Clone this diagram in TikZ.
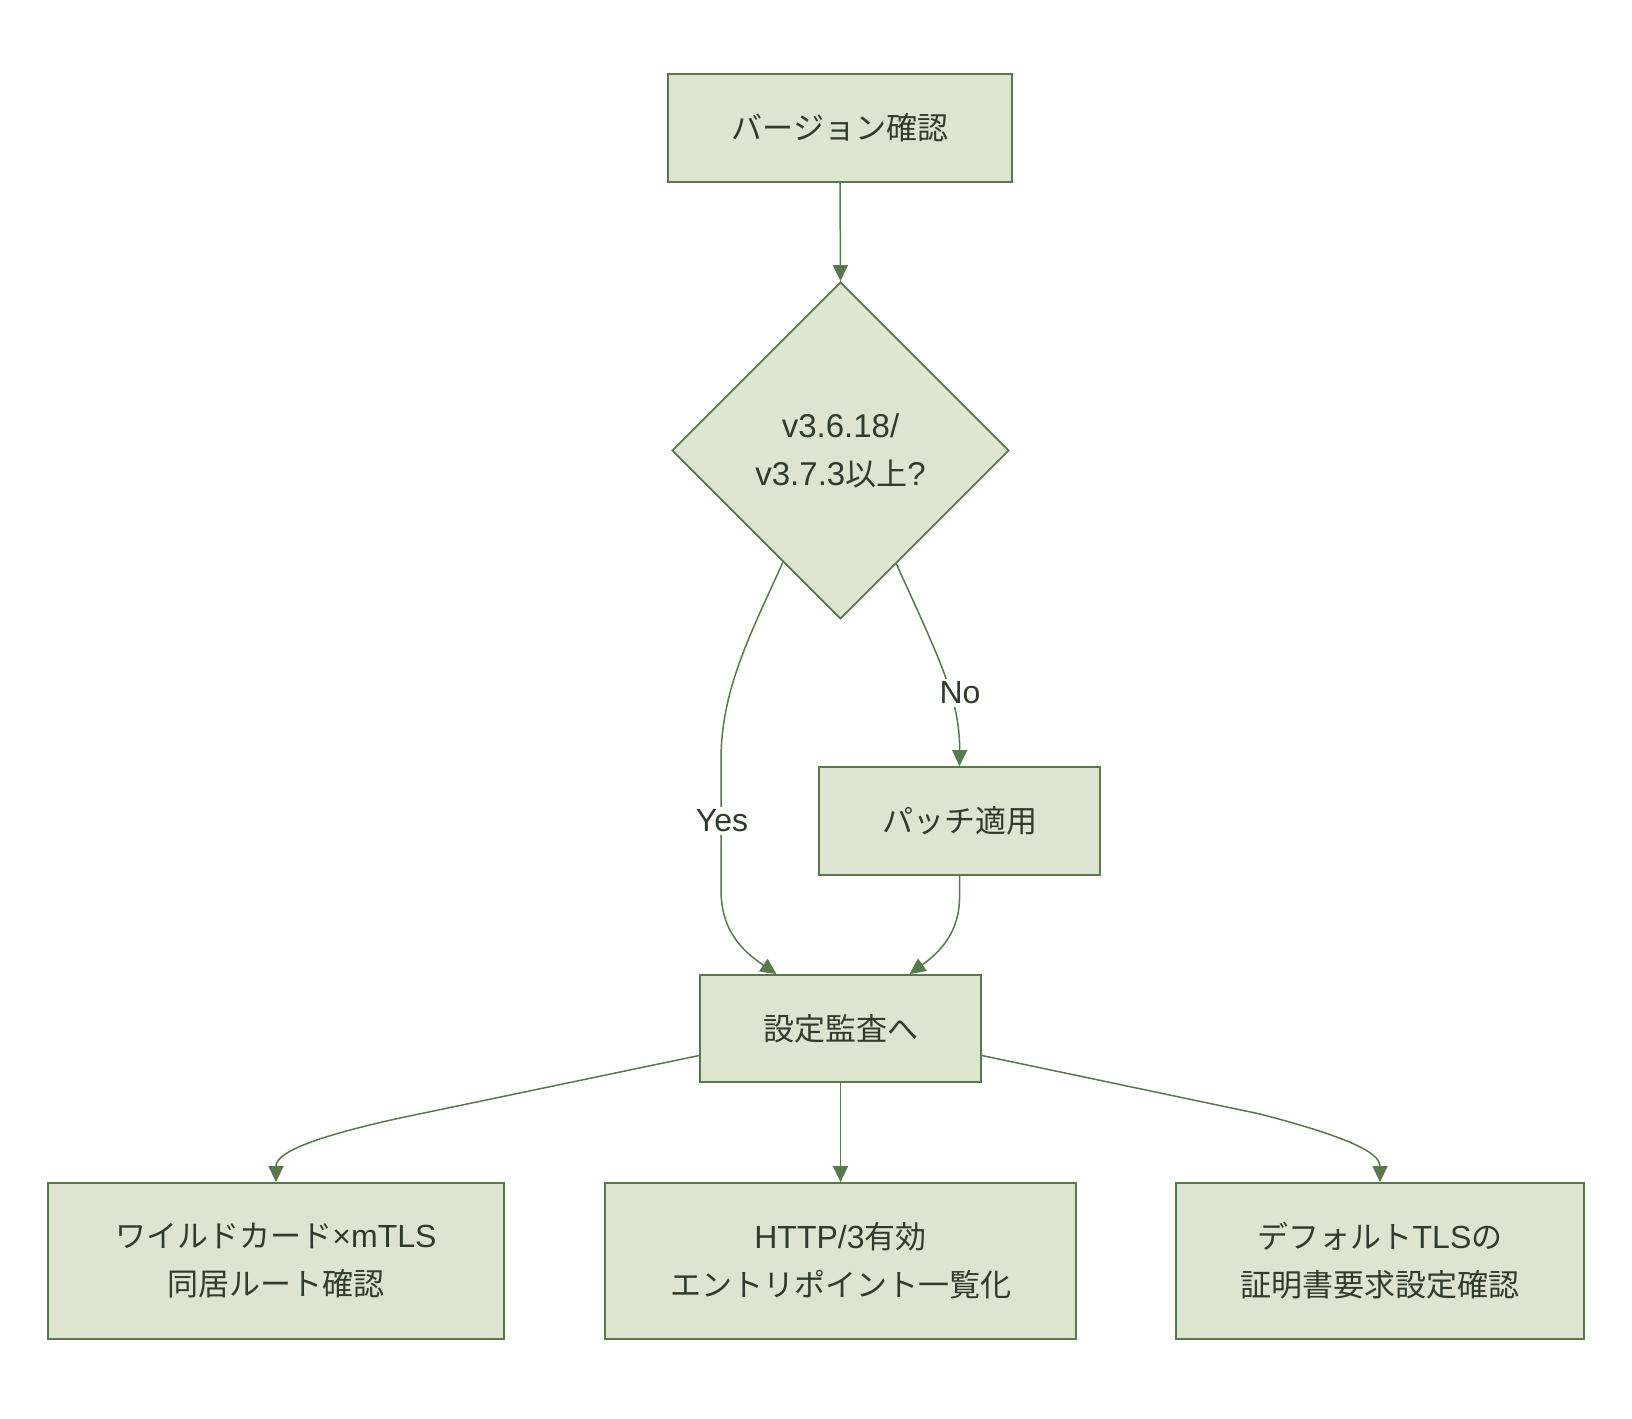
\documentclass[tikz,border=0pt]{standalone}
\usepackage{fontspec}
\setmainfont{Noto Sans CJK JP}
\newfontfamily\lat{Liberation Sans}
\usetikzlibrary{shapes.geometric,arrows.meta,calc}
\definecolor{nodefill}{HTML}{DDE5D0}
\definecolor{nodeline}{HTML}{587A4A}
\definecolor{txt}{HTML}{2F3B2C}
\tikzset{
  box/.style={draw=nodeline, fill=nodefill, line width=1.8pt, rectangle, inner sep=0pt,
    text=txt, align=center, font=\fontsize{31}{48}\selectfont},
  decision/.style={draw=nodeline, fill=nodefill, line width=1.8pt, diamond, aspect=1,
    inner sep=0pt, minimum width=337pt, minimum height=337pt,
    text=txt, align=center, font=\fontsize{31}{48}\selectfont},
  conn/.style={draw=nodeline, line width=1.5pt, -{Triangle[length=16pt,width=15pt]}},
  lbl/.style={fill=white, text=txt, inner sep=3pt, font=\fontsize{32}{40}\selectfont\lat}
}
\begin{document}
\begin{tikzpicture}[x=1pt,y=-1pt]
\useasboundingbox[fill=white] (0,0) rectangle (1632,1418);

\node[box, minimum width=344pt, minimum height=108pt] (ver) at (840,128) {バージョン確認};
\node[decision] (dec) at (840.5,450.5) {{\lat\fontsize{33}{48}\selectfont v3.6.18/}\\{\lat\fontsize{33}{48}\selectfont v3.7.3}以上{\lat\fontsize{33}{48}\selectfont ?}};
\node[box, minimum width=281pt, minimum height=108pt] (patch) at (959.5,821) {パッチ適用};
\node[box, minimum width=281pt, minimum height=107pt] (audit) at (840.5,1028.5) {設定監査へ};
\node[box, minimum width=456pt, minimum height=156pt] (wild) at (276,1261) {ワイルドカード{\lat\fontsize{32}{48}\selectfont ×mTLS}\\同居ルート確認};
\node[box, minimum width=471pt, minimum height=156pt] (http) at (840.5,1261) {{\lat\fontsize{32}{48}\selectfont HTTP/3}有効\\エントリポイント一覧化};
\node[box, minimum width=408pt, minimum height=156pt] (deft) at (1380,1261) {デフォルト{\lat\fontsize{32}{48}\selectfont TLS}の\\証明書要求設定確認};

\draw[conn] (ver.south) -- (dec.north);

\draw[conn] ($(dec.south)!0.34!(dec.west)$) .. controls (750,635) and (721,690) .. (721,760)
  -- (721,890) .. controls (721,932) and (744,952) .. ([xshift=-64pt]audit.north);
\draw[conn] ($(dec.south)!0.33!(dec.east)$) .. controls (940,660) and (960,700) .. (patch.north);
\draw[conn] (patch.south) -- ++(0,20) .. controls (960,932) and (940,952) .. ([xshift=69pt]audit.north);

\draw[conn] ($(audit.west)+(0,27)$) -- (400,1118) .. controls (300,1140) and (276,1155) .. (wild.north);
\draw[conn] (audit.south) -- (http.north);
\draw[conn] ($(audit.east)+(0,27)$) -- (1260,1114) .. controls (1360,1140) and (1380,1155) .. (deft.north);

\node[lbl] (yes) at (722,821) {Yes};
\node[lbl] (no) at (960,693) {No};
\end{tikzpicture}
\end{document}
